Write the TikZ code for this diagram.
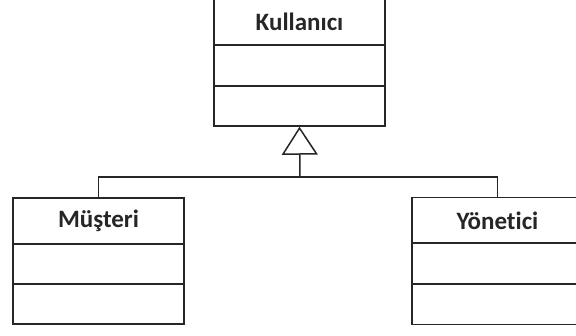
\documentclass[tikz,border=0pt]{standalone}
\usepackage{fontspec}
\setmainfont{Carlito}[Ligatures={NoCommon}]
\usetikzlibrary{arrows.meta}
\definecolor{linec}{gray}{0.15}
\definecolor{textc}{gray}{0.15}
\begin{document}
\begin{tikzpicture}[x=1pt,y=-1pt,
  classbox/.style={draw=linec, line width=1.5pt, inner sep=0pt, minimum width=171pt},
  compline/.style={draw=linec, line width=1.5pt},
  classname/.style={font=\bfseries\fontsize{25}{28}\selectfont, text=textc, inner sep=0pt},
  link/.style={draw=linec, line width=1.5pt},
  inherit/.style={link, -{Triangle[open, width=36pt, length=28pt, line width=1.5pt]}}]
\useasboundingbox (0,0) rectangle (576,335);
\clip (0,0) rectangle (576,335);
\fill[white] (0,0) rectangle (576,335);

% parent class
\node[classbox, minimum height=130pt] (kul) at (299.5,61) {};
\draw[compline] (kul.west |- 0,45) -- (kul.east |- 0,45);
\draw[compline] (kul.west |- 0,86) -- (kul.east |- 0,86);
\node[classname] (kulname) at (299.5,22) {Kullanıcı};

% child classes
\node[classbox, minimum height=126pt] (mus) at (98.5,261) {};
\draw[compline] (mus.west |- 0,244) -- (mus.east |- 0,244);
\draw[compline] (mus.west |- 0,284) -- (mus.east |- 0,284);
\node[classname] (musname) at (98.5,221) {Müşteri};

\node[classbox, minimum height=127pt] (yon) at (497.5,261) {};
\draw[compline] (yon.west |- 0,243) -- (yon.east |- 0,243);
\draw[compline] (yon.west |- 0,284) -- (yon.east |- 0,284);
\node[classname] (yonname) at (497.5,221) {Yönetici};

% generalization
\coordinate (bus) at (300,177);
\draw[link] (mus.north) |- (bus) -| (yon.north);
\draw[inherit] (bus) -- (kul.south);
\end{tikzpicture}
\end{document}
